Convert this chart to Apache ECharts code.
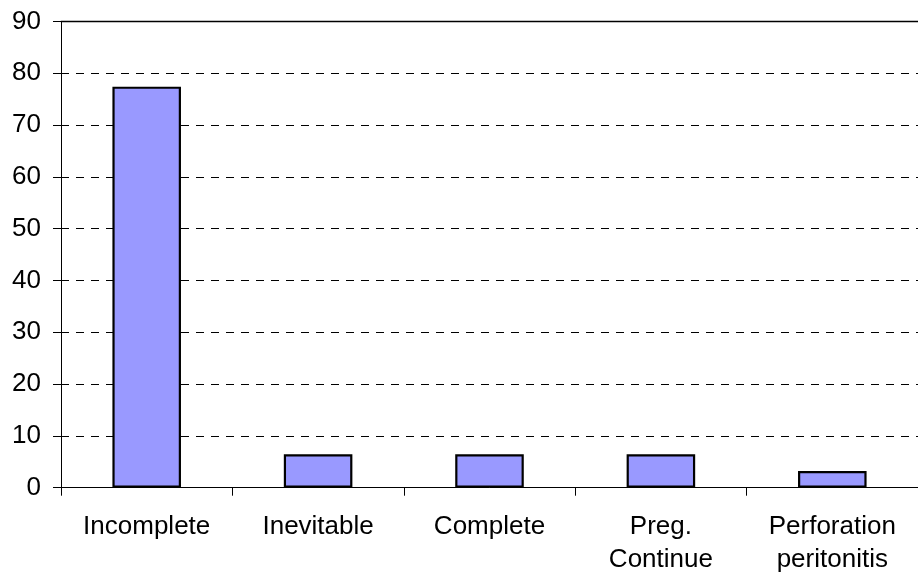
<!DOCTYPE html>
<html>
<head>
<meta charset="utf-8">
<title>Abortion outcome</title>
<script src="https://cdn.jsdelivr.net/npm/echarts@6/dist/echarts.min.js"></script>
<style>
  html, body { margin: 0; padding: 0; background: #ffffff; }
  #chart { width: 918px; height: 577px; }
</style>
</head>
<body>
<div id="chart"></div>
<script>
// Outcome categories (31 cases, shown as percentages)
const categories = ['Incomplete', 'Inevitable', 'Complete', 'Preg.\nContinue', 'Perforation\nperitonitis'];
const percentValues = [77.42, 6.45, 6.45, 6.45, 3.23];
const yTicks = { min: 0, max: 90, step: 10 };

const FONT = '"Liberation Sans", Arial, sans-serif';

const chart = echarts.init(document.getElementById('chart'), null, { renderer: 'canvas' });

chart.setOption({
  animation: false,
  backgroundColor: '#ffffff',
  grid: { left: 61, right: 0, top: 21.5, bottom: 89.3, containLabel: false },
  xAxis: [
    {
      type: 'category',
      data: categories,
      boundaryGap: true,
      axisLine: { show: true, lineStyle: { color: '#000', width: 1 } },
      axisTick: { show: true, inside: false, length: 8, alignWithLabel: false, lineStyle: { color: '#000' } },
      axisLabel: {
        color: '#000',
        fontFamily: FONT,
        fontSize: 26,
        lineHeight: 33,
        margin: 23,
        interval: 0
      },
      splitLine: { show: false }
    },
    {
      // plain frame line along the top of the plot area
      type: 'category',
      position: 'top',
      data: categories,
      axisLine: { show: true, lineStyle: { color: '#000', width: 1.3 } },
      axisTick: { show: false },
      axisLabel: { show: false },
      splitLine: { show: false }
    }
  ],
  yAxis: {
    type: 'value',
    min: yTicks.min,
    max: yTicks.max,
    interval: yTicks.step,
    axisLine: { show: true, lineStyle: { color: '#000', width: 1 } },
    axisTick: { show: true, inside: false, length: 8, lineStyle: { color: '#000' } },
    axisLabel: {
      color: '#000',
      fontFamily: FONT,
      fontSize: 26,
      margin: 20
    },
    splitLine: {
      show: true,
      lineStyle: { color: '#000', width: 1, type: [8, 7] }
    }
  },
  series: [
    {
      type: 'bar',
      xAxisIndex: 0,
      data: percentValues,
      barCategoryGap: '60%',
      itemStyle: {
        color: '#9999FF',
        borderColor: '#000',
        borderWidth: 2.2
      },
      label: { show: false }
    }
  ]
});
</script>
</body>
</html>
